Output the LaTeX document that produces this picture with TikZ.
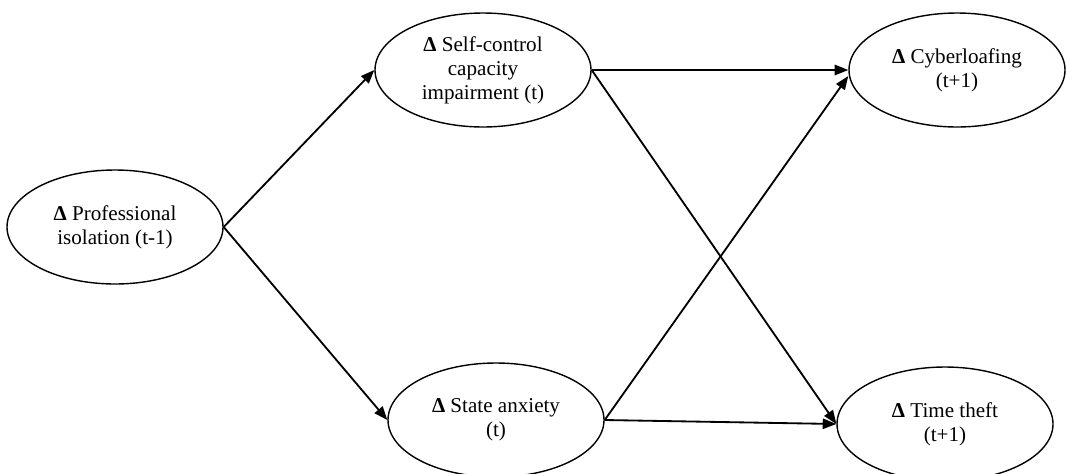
\documentclass[tikz,border=0pt]{standalone}
\usepackage{fontspec}
\setmainfont{Liberation Serif}
\usepackage{tikz}
\usetikzlibrary{positioning, arrows.meta, shapes.geometric}

\begin{document}
\begin{tikzpicture}[
  construct/.style={ellipse, draw, line width=1pt, inner sep=0pt,
    minimum width=5.4cm, minimum height=2.85cm, align=center,
    font=\fontsize{15}{17}\selectfont},
  effect/.style={draw, line width=1.3pt, -{Triangle[length=3.4mm, width=2.6mm]}}
]
\useasboundingbox (0,0) rectangle (26.675,-11.825);
\node[construct] (iso) at (2.875,-5.675) {{\bfseries Δ} Professional\\isolation (t-1)};
\node[construct] (scc) at (12.075,-1.75) {{\bfseries Δ} Self-control\\capacity\\impairment (t)};
\node[construct] (anx) at (12.4,-10.5) {{\bfseries Δ} State anxiety\\(t)};
\node[construct] (cyb) at (23.925,-1.75) {{\bfseries Δ} Cyberloafing\\(t+1)};
\node[construct] (tft) at (23.625,-10.6) {{\bfseries Δ} Time theft\\(t+1)};
\draw[effect] (iso.east) -- (scc.west);
\draw[effect] (iso.east) -- (anx.west);
\draw[effect] (scc.east) -- (cyb.west);
\draw[effect] (scc.east) -- (tft.west);
\draw[effect] (anx.east) -- ([yshift=-0.15cm]cyb.west);
\draw[effect] (anx.east) -- (tft.west);
\end{tikzpicture}
\end{document}
